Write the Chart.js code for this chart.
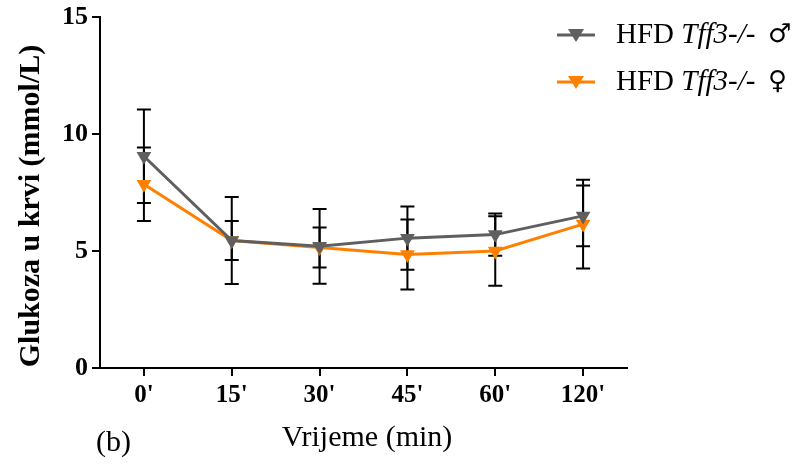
<!DOCTYPE html>
<html>
<head>
<meta charset="utf-8">
<script src="https://cdn.jsdelivr.net/npm/chart.js@4.4.1/dist/chart.umd.min.js"></script>
<style>
  html, body { margin: 0; padding: 0; background: #fff; }
  canvas { display: block; }
</style>
</head>
<body>
<canvas id="myChart" width="801" height="465"></canvas>
<script>
const labels = ["0'", "15'", "30'", "45'", "60'", "120'"];
const maleMean = [9.05, 5.45, 5.2, 5.55, 5.7, 6.5];
const maleSD = [2.0, 1.86, 1.6, 1.35, 0.9, 1.3];
const femaleMean = [7.85, 5.45, 5.15, 4.85, 5.0, 6.15];
const femaleSD = [1.57, 0.83, 0.85, 1.5, 1.48, 1.9];
const yTicks = [0, 5, 10, 15];

const serif = "'Liberation Serif', 'Times New Roman', serif";
const gray = '#5f5f5f';
const orange = '#ff8000';

// error bars, drawn under the lines so the markers sit on top
const errorBars = {
  id: 'errorBars',
  beforeDatasetsDraw(chart) {
    const ctx = chart.ctx;
    const x = chart.scales.x, y = chart.scales.y;
    const sds = [maleSD, femaleSD];
    ctx.save();
    ctx.strokeStyle = '#000';
    ctx.lineWidth = 2;
    chart.data.datasets.forEach((ds, d) => {
      ds.data.forEach((v, i) => {
        const px = x.getPixelForValue(i);
        const top = y.getPixelForValue(v + sds[d][i]);
        const bot = y.getPixelForValue(v - sds[d][i]);
        ctx.beginPath();
        ctx.moveTo(px, top); ctx.lineTo(px, bot);
        ctx.moveTo(px - 7, top); ctx.lineTo(px + 7, top);
        ctx.moveTo(px - 7, bot); ctx.lineTo(px + 7, bot);
        ctx.stroke();
      });
    });
    ctx.restore();
  }
};

// titles and the legend with mixed italic text
const extras = {
  id: 'extras',
  afterDraw(chart) {
    const ctx = chart.ctx;
    ctx.save();
    ctx.fillStyle = '#000';
    ctx.textBaseline = 'middle';

    // y title
    ctx.save();
    ctx.translate(31, 206);
    ctx.rotate(-Math.PI / 2);
    ctx.textAlign = 'center';
    ctx.font = 'bold 30px ' + serif;
    ctx.fillText('Glukoza u krvi (mmol/L)', 0, 0);
    ctx.restore();

    // x title and panel letter
    ctx.textAlign = 'center';
    ctx.font = '30px ' + serif;
    ctx.fillText('Vrijeme (min)', 367, 438);
    ctx.textAlign = 'left';
    ctx.fillText('(b)', 96, 443);

    // legend
    const items = [
      { color: gray, sym: '\u2642', y: 35 },
      { color: orange, sym: '\u2640', y: 82 }
    ];
    items.forEach(it => {
      ctx.strokeStyle = it.color;
      ctx.lineWidth = 3;
      ctx.beginPath();
      ctx.moveTo(557, it.y); ctx.lineTo(595, it.y);
      ctx.stroke();
      ctx.fillStyle = it.color;
      ctx.beginPath();
      ctx.moveTo(568, it.y - 6);
      ctx.lineTo(584, it.y - 6);
      ctx.lineTo(576, it.y + 7);
      ctx.closePath();
      ctx.fill();

      ctx.fillStyle = '#000';
      let tx = 616;
      ctx.font = '29px ' + serif;
      ctx.fillText('HFD ', tx, it.y);
      tx += ctx.measureText('HFD ').width;
      ctx.font = 'italic 29px ' + serif;
      ctx.fillText('Tff3-/-', tx, it.y);
      ctx.font = "26px 'DejaVu Sans', sans-serif";
      ctx.fillText(it.sym, 768, it.y);
    });
    ctx.restore();
  }
};

const data = {
  labels: labels,
  datasets: [{
    label: 'HFD Tff3-/- \u2642',
    data: maleMean,
    borderColor: gray,
    backgroundColor: gray,
    borderWidth: 3,
    pointStyle: 'triangle',
    pointRotation: 180,
    pointRadius: 8.5,
    pointBorderWidth: 0,
    pointHoverRadius: 8.5
  }, {
    label: 'HFD Tff3-/- \u2640',
    data: femaleMean,
    borderColor: orange,
    backgroundColor: orange,
    borderWidth: 3,
    pointStyle: 'triangle',
    pointRotation: 180,
    pointRadius: 8.5,
    pointBorderWidth: 0,
    pointHoverRadius: 8.5
  }]
};

const config = {
  type: 'line',
  data,
  options: {
    responsive: false,
    animation: false,
    devicePixelRatio: 1,
    layout: { padding: { top: 17, right: 174, left: 0, bottom: 0 } },
    plugins: {
      legend: { display: false },
      tooltip: { enabled: false }
    },
    scales: {
      x: {
        offset: true,
        grid: { drawOnChartArea: false, tickLength: 8, color: '#000', lineWidth: 2 },
        border: { display: true, color: '#000', width: 2 },
        ticks: { color: '#000', padding: 5, font: { family: serif, size: 25, weight: 'bold' } },
        afterFit(scale) { scale.height = 97; }
      },
      y: {
        min: 0,
        max: 15,
        afterBuildTicks(scale) { scale.ticks = yTicks.map(v => ({ value: v })); },
        grid: { drawOnChartArea: false, tickLength: 8, color: '#000', lineWidth: 2 },
        border: { display: true, color: '#000', width: 2 },
        ticks: { color: '#000', padding: 4, font: { family: serif, size: 26, weight: 'bold' } },
        afterFit(scale) {
          scale.width = 100;
          scale.paddingTop = 0;
          scale.paddingBottom = 0;
        }
      }
    }
  },
  plugins: [errorBars, extras]
};

new Chart(document.getElementById('myChart'), config);
</script>
</body>
</html>
